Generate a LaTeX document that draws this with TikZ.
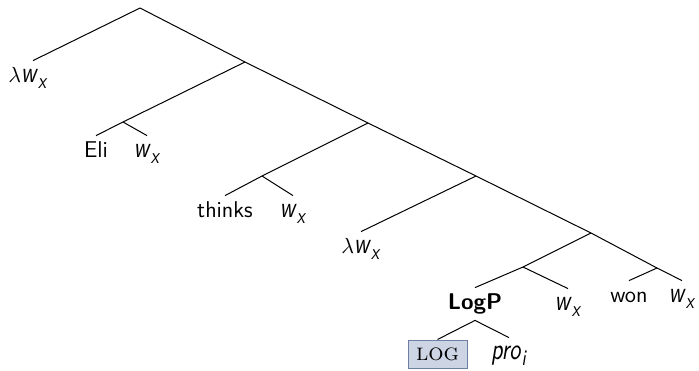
\documentclass[tikz,border=0pt]{standalone}
\usepackage{fontspec}
\usepackage{tikz}
\definecolor{logfill}{HTML}{CDD4E4}
\definecolor{logedge}{HTML}{6E7FA3}
\newcommand{\vit}[1]{\scalebox{1}[1.3]{\textit{#1}}}
\newcommand{\lsub}[1]{\raisebox{-3pt}{\fontsize{8.5}{9}\selectfont\vit{#1}}}
\newcommand{\wx}{\vit{w}\lsub{x}}
\newcommand{\lwx}{$\lambda$\wx}

\begin{document}
\begin{tikzpicture}[x=0.5pt,y=-0.5pt,
    leaf/.style={anchor=base, inner sep=3pt, text height=7.5pt, text depth=2.5pt,
      font=\fontsize{11.4}{13}\selectfont\sffamily},
    branch/.style={black, line width=0.5pt}]
    \path[use as bounding box] (0,0) rectangle (699,370);

    % Branching points of the tree.
    \foreach \name/\px/\py in {r/140/8, n1/245/62, e/123/122, n2/368/123,
      t/262/176, n3/476/176, n4/591/233, n5/523/267, n6/657/268} {
      \coordinate (\name) at (\px,\py);
    }

    % Leaves, placed on their baselines.
    \node[leaf] (lamA) at (28,82) {\lwx};
    \node[leaf] (eli) at (96,157) {Eli};
    \node[leaf] (wxA) at (147,157) {\wx};
    \node[leaf] (thinks) at (225,217) {thinks};
    \node[leaf] (wxB) at (293,217) {\wx};
    \node[leaf] (lamB) at (361,253) {\lwx};
    \node[leaf, font=\fontsize{11.4}{13}\selectfont\sffamily\bfseries]
      (logp) at (475,309) {LogP};
    \node[leaf] (wxC) at (568,310) {\wx};
    \node[leaf] (won) at (629,302) {won};
    \node[leaf] (wxD) at (682,302) {\wx};
    \node[leaf] (pro) at (509,359) {\vit{pro}\lsub{i}};
    \node[draw=logedge, fill=logfill, line width=0.5pt, inner sep=0pt,
      minimum width=29.5pt, minimum height=14pt,
      font=\fontsize{12}{14}\selectfont\rmfamily]
      (log) at (437.5,354) {\textsc{log}};

    % Spine and inner branches.
    \foreach \from/\to in {r/n1, n1/e, n1/n2, n2/t, n2/n3, n3/n4, n4/n5, n4/n6} {
      \draw[branch] (\from) -- (\to);
    }
    \draw[branch] (r) -- ([xshift=2.5pt]lamA.north);
    \foreach \from/\to in {e/eli, e/wxA, t/thinks, t/wxB, n3/lamB,
      n5/logp, n5/wxC, n6/won, n6/wxD} {
      \draw[branch] (\from) -- (\to.north);
    }
    \draw[branch] (logp.south) -- (log.north);
    \draw[branch] (logp.south) -- (pro.north);
  \end{tikzpicture}
\end{document}
